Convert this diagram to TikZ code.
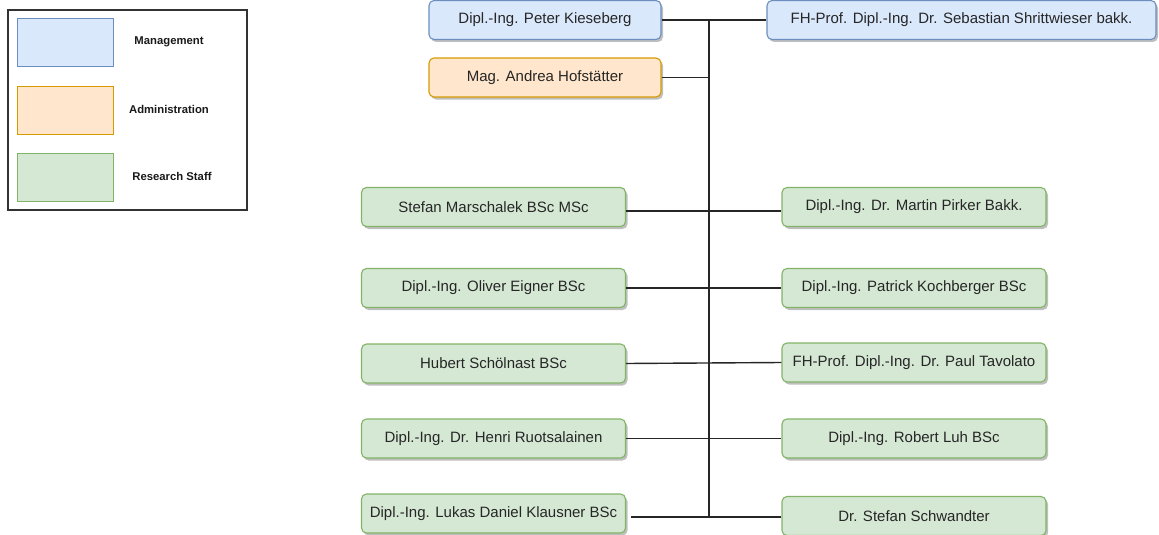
\documentclass[tikz,border=0pt]{standalone}
\usepackage{fontspec}
\setmainfont{Liberation Sans}
\usepackage{tikz}
\usetikzlibrary{shadows}

\definecolor{mgmtfill}{HTML}{DAE8FC}
\definecolor{mgmtline}{HTML}{6C8EBF}
\definecolor{adminfill}{HTML}{FFE6CC}
\definecolor{adminline}{HTML}{D79B00}
\definecolor{stafffill}{HTML}{D5E8D4}
\definecolor{staffline}{HTML}{82B366}

\tikzset{
  person/.style={rounded corners=5pt, line width=1.1pt, inner sep=0pt,
    minimum height=39pt, font=\fontsize{15}{17}\selectfont, text=black!85,
    drop shadow={shadow xshift=2pt, shadow yshift=-2.5pt, opacity=0.25, fill=black}},
  mgmt/.style={person, fill=mgmtfill, draw=mgmtline},
  admin/.style={person, fill=adminfill, draw=adminline},
  staff/.style={person, fill=stafffill, draw=staffline, minimum width=264pt},
  swatch/.style={line width=1pt, minimum width=96pt, minimum height=48pt, inner sep=0pt},
  legendtext/.style={font=\bfseries\fontsize{11.3}{13}\selectfont, text=black!90},
  link/.style={line width=1.4pt, black!85}
}

\begin{document}
\begin{tikzpicture}[x=1pt, y=-1pt]
  \useasboundingbox (0,0) rectangle (1159,535);

  % Draw the Legend
  \draw[line width=1.2pt, black!80] (8,10) rectangle (247,210);
  \node[swatch, fill=mgmtfill, draw=mgmtline] (legmgmt) at (65,43) {};
  \node[swatch, fill=adminfill, draw=adminline] (legadmin) at (65,110) {};
  \node[swatch, fill=stafffill, draw=staffline] (legstaff) at (65,177) {};
  \node[legendtext] (legmgmttext) at (169,42) {Management};
  \node[legendtext] (legadmintext) at (169,109) {Administration};
  \node[legendtext] (legstafftext) at (172,176) {Research Staff};

  % Management and administration
  \node[mgmt, minimum width=232pt] (kieseberg) at (545,20) {Dipl.-Ing. Peter Kieseberg};
  \node[mgmt, minimum width=389pt] (schrittwieser) at (961.5,20) {FH-Prof. Dipl.-Ing. Dr. Sebastian Shrittwieser bakk.};
  \node[admin, minimum width=232pt] (hofstaetter) at (545,77.5) {Mag. Andrea Hofstätter};

  % Research staff, left column
  \node[staff] (marschalek) at (493.5,207) {Stefan Marschalek BSc MSc};
  \node[staff] (eigner) at (493.5,288) {Dipl.-Ing. Oliver Eigner BSc};
  \node[staff] (schoelnast) at (493.5,363.5) {Hubert Schölnast BSc};
  \node[staff] (ruotsalainen) at (493.5,438.5) {Dipl.-Ing. Dr. Henri Ruotsalainen};
  \node[staff] (klausner) at (493.5,513.5) {Dipl.-Ing. Lukas Daniel Klausner BSc};

  % Research staff, right column
  \node[staff] (pirker) at (914,207) {Dipl.-Ing. Dr. Martin Pirker Bakk.};
  \node[staff] (kochberger) at (914,288) {Dipl.-Ing. Patrick Kochberger BSc};
  \node[staff] (tavolato) at (914,362.5) {FH-Prof. Dipl.-Ing. Dr. Paul Tavolato};
  \node[staff] (luh) at (914,438.5) {Dipl.-Ing. Robert Luh BSc};
  \node[staff] (schwandter) at (914,516) {Dr. Stefan Schwandter};

  % Draw the connectors
  \coordinate (trunktop) at (709,20);
  \coordinate (trunkbottom) at (709,517);
  \draw[link] (trunktop) -- (trunkbottom);
  \draw[link] (kieseberg) -- (schrittwieser);
  \draw[link] (hofstaetter.east) -- (hofstaetter.east -| trunktop);
  \draw[link] ([yshift=-4pt]marschalek.east) -- ([yshift=-4pt]pirker.west);
  \foreach \l/\r in {eigner/kochberger, schoelnast/tavolato, ruotsalainen/luh} {
    \draw[link] (\l.east) -- (\r.west);
  }
  \draw[link] ([xshift=5pt]klausner.east |- trunkbottom) -- (schwandter.west |- trunkbottom);
\end{tikzpicture}
\end{document}
